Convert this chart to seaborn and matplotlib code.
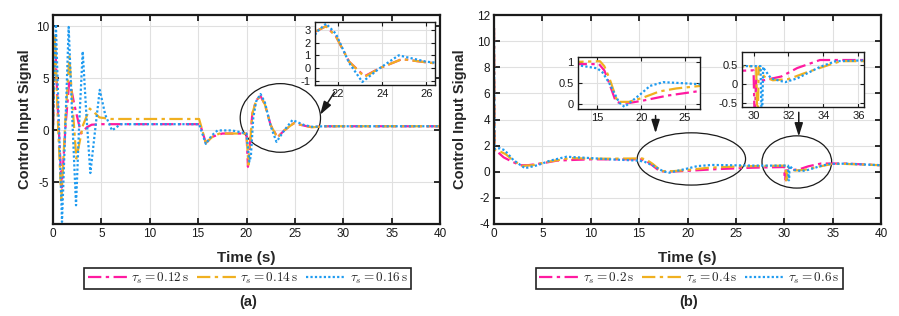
import numpy as np
import pandas as pd
import matplotlib
matplotlib.use("Agg")
import matplotlib.pyplot as plt
import seaborn as sns
from matplotlib.patches import Ellipse

sns.set_theme(style="ticks")
plt.rcParams['font.family'] = ['Liberation Sans', 'DejaVu Sans']
plt.rcParams['mathtext.fontset'] = 'cm'
plt.rcParams['axes.unicode_minus'] = False

# ---------------- data: panel (a) ----------------
t_a1 = [0, 0.2, 0.5, 0.9, 1.3, 1.7, 2.2, 2.9, 3.5, 4.0, 5.0, 15.2, 15.8, 16.5, 17.5, 20.0,
        20.15, 20.3, 20.6, 21.0, 21.45, 21.9, 22.5, 23.2, 23.9, 24.9, 26.0, 26.8, 28.0, 40.0]
u_a1 = [0.5, 9.0, 2.0, -5.5, 0.5, 4.9, 2.5, -0.3, 0.3, 0.55, 0.6, 0.6, -1.2, -0.6, -0.3, -0.3,
        -3.5, -2.0, 1.6, 2.9, 3.3, 2.5, 0.5, -0.65, 0.0, 0.7, 0.45, 0.3, 0.4, 0.4]

t_a2 = [0, 0.2, 0.5, 0.86, 1.25, 1.69, 2.05, 2.41, 3.1, 3.8, 4.3, 4.8, 6.0, 15.1, 15.8, 16.5,
        17.2, 20.0, 20.2, 20.35, 20.6, 21.0, 21.45, 21.9, 22.5, 23.2, 23.9, 24.9, 26.0, 26.8, 28.0, 40.0]
u_a2 = [0.5, 9.3, 1.0, -6.7, 0.5, 7.1, 2.0, -2.7, 0.5, 2.1, 1.7, 1.25, 1.1, 1.1, -1.2, -0.6,
        -0.3, -0.3, -3.3, -1.5, 1.6, 2.9, 3.3, 2.5, 0.5, -0.7, 0.0, 0.7, 0.45, 0.3, 0.4, 0.4]

t_a3 = [0, 0.3, 0.6, 0.93, 1.3, 1.62, 2.0, 2.38, 2.7, 3.07, 3.45, 3.86, 4.35, 4.83, 5.4, 6.1,
        7.0, 15.1, 15.8, 16.4, 17.0, 18.5, 20.0, 20.3, 20.45, 20.7, 21.0, 21.45, 21.9, 22.5,
        23.1, 23.9, 24.75, 26.0, 26.8, 28.0, 40.0]
u_a3 = [0.5, 10.2, 1.0, -8.8, 1.0, 9.95, 1.0, -7.2, 0.5, 7.6, 1.5, -4.1, 0.0, 3.9, 1.5, 0.0,
        0.6, 0.6, -1.3, -0.5, 0.0, 0.0, -0.3, -3.0, -2.5, 1.2, 2.8, 3.5, 2.7, 0.4,
        -1.1, 0.0, 1.0, 0.5, 0.35, 0.4, 0.4]

# ---------------- data: panel (b) ----------------
t_b1 = [0, 0.05, 0.4, 1.0, 1.8, 2.7, 3.5, 5.0, 6.5, 8.0, 10.0, 12.0, 15.2, 15.8, 16.35, 17.1,
        17.5, 18.8, 20.2, 23.0, 26.7, 30.0, 30.05, 30.1, 30.15, 30.6, 31.6, 32.5, 33.8, 36.3, 40.0]
u_b1 = [11.0, 1.55, 1.5, 1.1, 0.8, 0.5, 0.5, 0.65, 0.85, 0.9, 0.95, 0.95, 0.95, 0.8, 0.5, 0.06,
        0.03, 0.03, 0.08, 0.2, 0.31, 0.36, -0.65, -0.65, 0.1, 0.1, 0.2, 0.42, 0.63, 0.63, 0.5]

t_b2 = [0, 0.05, 0.5, 1.2, 2.0, 2.9, 4.0, 5.5, 7.9, 10.0, 12.0, 15.3, 15.8, 16.4, 17.3, 18.6,
        20.2, 22.1, 24.0, 26.7, 30.15, 30.2, 30.25, 30.3, 30.6, 31.1, 32.0, 33.0, 34.3, 35.0, 36.3, 40.0]
u_b2 = [11.0, 1.7, 1.6, 1.35, 0.85, 0.45, 0.5, 0.75, 1.05, 1.0, 1.0, 1.02, 0.9, 0.6, 0.05, 0.05,
        0.15, 0.3, 0.37, 0.43, 0.47, -0.65, -0.65, 0.45, 0.2, 0.1, 0.13, 0.3, 0.5, 0.6, 0.6, 0.5]

t_b3 = [0, 0.05, 0.6, 1.1, 2.0, 3.2, 4.5, 5.8, 7.5, 9.9, 12.0, 15.0, 15.6, 16.35, 17.5, 18.1,
        19.9, 21.0, 22.5, 25.2, 26.7, 30.4, 30.45, 30.5, 30.55, 30.6, 31.0, 31.8, 32.5, 33.8,
        34.7, 36.3, 40.0]
u_b3 = [11.0, 1.75, 1.8, 1.65, 0.9, 0.27, 0.5, 0.85, 1.15, 1.05, 0.95, 0.85, 0.75, 0.5, 0.03, -0.07,
        0.23, 0.43, 0.52, 0.49, 0.47, 0.47, -0.65, -0.65, 0.45, 0.4, 0.15, 0.05, 0.15, 0.45,
        0.6, 0.62, 0.5]

labels_a = [r'$\tau_s = 0.12\,\mathrm{s}$', r'$\tau_s = 0.14\,\mathrm{s}$', r'$\tau_s = 0.16\,\mathrm{s}$']
labels_b = [r'$\tau_s = 0.2\,\mathrm{s}$', r'$\tau_s = 0.4\,\mathrm{s}$', r'$\tau_s = 0.6\,\mathrm{s}$']

colors = ['#ff1aa0', '#f0b020', '#1f9bf0']
styles = [(0, (6, 2, 1.5, 2)), (0, (6, 2, 1.5, 2)), (0, (1, 1))]

series_a = [(t_a1, u_a1), (t_a2, u_a2), (t_a3, u_a3)]
series_b = [(t_b1, u_b1), (t_b2, u_b2), (t_b3, u_b3)]

W, H = 899, 316
fig = plt.figure(figsize=(W / 100, H / 100), dpi=100)


def px_axes(x0, y0, x1, y1):
    return fig.add_axes([x0 / W, 1 - y1 / H, (x1 - x0) / W, (y1 - y0) / H])


def style_ax(ax, lw=1.6, size=8.5, length=4):
    ax.grid(True, color='#e0e0e0', lw=0.8)
    ax.set_axisbelow(True)
    for s in ax.spines.values():
        s.set_color('#1a1a1a')
        s.set_linewidth(lw)
    ax.tick_params(direction='in', top=True, right=True, length=length, width=lw * 0.8,
                   labelsize=size, colors='#1a1a1a', pad=3)


def draw(ax, series, labels, lw=1.6):
    for (t, u), lab, c, ls in zip(series, labels, colors, styles):
        df = pd.DataFrame({'t': t, 'u': u})
        sns.lineplot(data=df, x='t', y='u', ax=ax, color=c, linestyle=ls, lw=lw,
                     label=lab, estimator=None, sort=False, legend=False)


def add_legend(ax, xc):
    h, l = ax.get_legend_handles_labels()
    leg = fig.legend(h, l, loc='center', bbox_to_anchor=(xc / W, 1 - 278.5 / H), ncol=3,
                     fancybox=False, edgecolor='#222222', framealpha=1, fontsize=9.5,
                     handlelength=3.0, columnspacing=0.6, handletextpad=0.3,
                     borderpad=0.25, borderaxespad=0)
    leg.get_frame().set_linewidth(1.2)


arrow = dict(arrowstyle='-|>,head_length=0.8,head_width=0.25', color='k', lw=1.1,
             mutation_scale=10, shrinkA=0, shrinkB=0)

# ---------------- panel (a) ----------------
ax_a = px_axes(53, 15, 440, 224)
draw(ax_a, series_a, labels_a)
style_ax(ax_a)
ax_a.set_xlim(0, 40)
ax_a.set_ylim(-9.0, 11.1)
ax_a.set_xticks(range(0, 41, 5))
ax_a.set_yticks([-5, 0, 5, 10])
ax_a.set_xlabel('Time (s)', fontsize=11, fontweight='bold')
ax_a.set_ylabel('Control Input Signal', fontsize=10.5, fontweight='bold')
ax_a.yaxis.set_label_coords(-0.054, 0.5)
ax_a.xaxis.set_label_coords(0.5, -0.13)
ax_a.add_patch(Ellipse((23.5, 1.2), 8.3, 6.6, fill=False, ec='k', lw=0.9))
ax_a.annotate('', xy=(27.6, 1.5), xytext=(29.1, 3.7), arrowprops=arrow)
add_legend(ax_a, 247.5)
fig.text(248 / W, 1 - 302 / H, '(a)', ha='center', va='center', fontsize=10.5, fontweight='bold')

ins_a = px_axes(315, 22, 435, 85)
draw(ins_a, series_a, labels_a)
style_ax(ins_a, lw=1.0, size=8, length=3)
ins_a.set_xlim(20.95, 26.4)
ins_a.set_ylim(-1.34, 3.63)
ins_a.set_xticks([22, 24, 26])
ins_a.set_yticks([-1, 0, 1, 2, 3])
ins_a.set_xlabel('')
ins_a.set_ylabel('')

# ---------------- panel (b) ----------------
ax_b = px_axes(494, 15, 881, 224)
draw(ax_b, series_b, labels_b)
style_ax(ax_b)
ax_b.set_xlim(0, 40)
ax_b.set_ylim(-4, 12)
ax_b.set_xticks(range(0, 41, 5))
ax_b.set_yticks(range(-4, 13, 2))
ax_b.set_xlabel('Time (s)', fontsize=11, fontweight='bold')
ax_b.set_ylabel('Control Input Signal', fontsize=10.5, fontweight='bold')
ax_b.yaxis.set_label_coords(-0.07, 0.5)
ax_b.xaxis.set_label_coords(0.5, -0.13)
ax_b.add_patch(Ellipse((20.4, 0.98), 11.2, 4.0, fill=False, ec='k', lw=0.9))
ax_b.add_patch(Ellipse((31.3, 0.75), 7.2, 4.0, fill=False, ec='k', lw=0.9))
for xa, ya0, ya1 in [(16.7, 4.3, 2.95), (31.5, 4.55, 2.7)]:
    ax_b.annotate('', xy=(xa, ya1), xytext=(xa, ya0), arrowprops=arrow)
add_legend(ax_b, 689.5)
fig.text(689 / W, 1 - 302 / H, '(b)', ha='center', va='center', fontsize=10.5, fontweight='bold')

ins_b1 = px_axes(578, 57, 700, 109)
draw(ins_b1, series_b, labels_b)
style_ax(ins_b1, lw=1.0, size=8, length=3)
ins_b1.set_xlim(12.8, 26.7)
ins_b1.set_ylim(-0.12, 1.12)
ins_b1.set_xticks([15, 20, 25])
ins_b1.set_yticks([0, 0.5, 1])
ins_b1.set_yticklabels(['0', '0.5', '1'])
ins_b1.set_xlabel('')
ins_b1.set_ylabel('')

ins_b2 = px_axes(742, 52, 864, 107)
draw(ins_b2, series_b, labels_b)
style_ax(ins_b2, lw=1.0, size=8, length=3)
ins_b2.set_xlim(29.34, 36.32)
ins_b2.set_ylim(-0.6, 0.84)
ins_b2.set_xticks([30, 32, 34, 36])
ins_b2.set_yticks([-0.5, 0, 0.5])
ins_b2.set_yticklabels(['-0.5', '0', '0.5'])
ins_b2.set_xlabel('')
ins_b2.set_ylabel('')

fig.savefig('out.png', dpi=100)
